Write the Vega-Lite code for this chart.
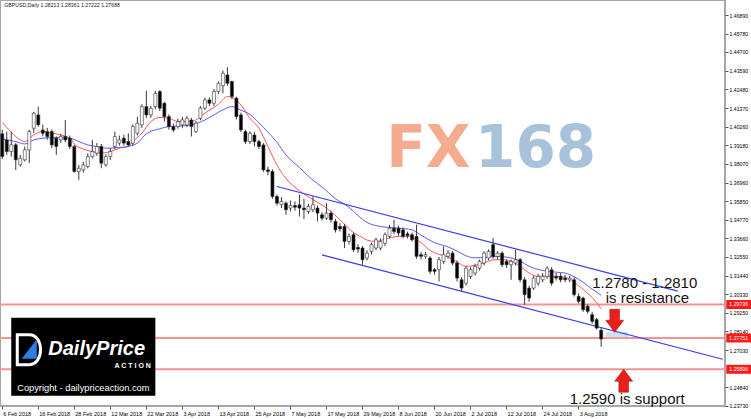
{
  "$schema": "https://vega.github.io/schema/vega-lite/v6.json",
  "width": 725,
  "height": 406,
  "autosize": "none",
  "padding": {"left": 0, "top": 0, "right": 26, "bottom": 13},
  "background": "#ffffff",
  "config": {
    "view": {"stroke": "#a6a6a6", "strokeWidth": 2},
    "axis": {"grid": false, "domain": false, "labelFont": "Liberation Sans", "labelColor": "#000000", "labelOverlap": false}
  },
  "datasets": {
    "candles": [
      {"d":"6 Feb 2018","o":1.3985,"h":1.401,"l":1.3835,"c":1.385},
      {"d":"7 Feb 2018","o":1.3949,"h":1.3998,"l":1.386,"c":1.388},
      {"d":"8 Feb 2018","o":1.388,"h":1.3998,"l":1.385,"c":1.392},
      {"d":"9 Feb 2018","o":1.392,"h":1.393,"l":1.3771,"c":1.3831},
      {"d":"12 Feb 2018","o":1.3801,"h":1.386,"l":1.3791,"c":1.384},
      {"d":"13 Feb 2018","o":1.3831,"h":1.391,"l":1.3821,"c":1.389},
      {"d":"14 Feb 2018","o":1.389,"h":1.4008,"l":1.3811,"c":1.3998},
      {"d":"15 Feb 2018","o":1.4018,"h":1.4115,"l":1.399,"c":1.4107},
      {"d":"16 Feb 2018","o":1.4097,"h":1.4146,"l":1.4028,"c":1.4038},
      {"d":"19 Feb 2018","o":1.4008,"h":1.404,"l":1.397,"c":1.3988},
      {"d":"20 Feb 2018","o":1.3998,"h":1.402,"l":1.395,"c":1.3969},
      {"d":"21 Feb 2018","o":1.3998,"h":1.401,"l":1.39,"c":1.3919},
      {"d":"22 Feb 2018","o":1.3959,"h":1.397,"l":1.386,"c":1.391},
      {"d":"23 Feb 2018","o":1.3949,"h":1.3985,"l":1.393,"c":1.3969},
      {"d":"26 Feb 2018","o":1.3969,"h":1.4067,"l":1.3935,"c":1.3949},
      {"d":"27 Feb 2018","o":1.3959,"h":1.3975,"l":1.3895,"c":1.391},
      {"d":"28 Feb 2018","o":1.391,"h":1.392,"l":1.3755,"c":1.3762},
      {"d":"1 Mar 2018","o":1.3762,"h":1.3801,"l":1.3712,"c":1.3781},
      {"d":"2 Mar 2018","o":1.3771,"h":1.382,"l":1.3755,"c":1.3801},
      {"d":"5 Mar 2018","o":1.3791,"h":1.387,"l":1.378,"c":1.385},
      {"d":"6 Mar 2018","o":1.385,"h":1.3949,"l":1.384,"c":1.388},
      {"d":"7 Mar 2018","o":1.387,"h":1.393,"l":1.3855,"c":1.391},
      {"d":"8 Mar 2018","o":1.391,"h":1.3925,"l":1.3781,"c":1.3811},
      {"d":"9 Mar 2018","o":1.3801,"h":1.3865,"l":1.379,"c":1.385},
      {"d":"12 Mar 2018","o":1.385,"h":1.39,"l":1.383,"c":1.388},
      {"d":"13 Mar 2018","o":1.391,"h":1.3998,"l":1.3895,"c":1.3969},
      {"d":"14 Mar 2018","o":1.393,"h":1.3975,"l":1.3915,"c":1.3949},
      {"d":"15 Mar 2018","o":1.3959,"h":1.398,"l":1.3915,"c":1.393},
      {"d":"16 Mar 2018","o":1.3939,"h":1.3988,"l":1.391,"c":1.3919},
      {"d":"19 Mar 2018","o":1.393,"h":1.404,"l":1.3915,"c":1.4028},
      {"d":"20 Mar 2018","o":1.3988,"h":1.4087,"l":1.3975,"c":1.4048},
      {"d":"21 Mar 2018","o":1.4038,"h":1.416,"l":1.402,"c":1.4146},
      {"d":"22 Mar 2018","o":1.4146,"h":1.424,"l":1.408,"c":1.4097},
      {"d":"23 Mar 2018","o":1.4097,"h":1.415,"l":1.408,"c":1.4136},
      {"d":"26 Mar 2018","o":1.4146,"h":1.424,"l":1.413,"c":1.4225},
      {"d":"27 Mar 2018","o":1.4235,"h":1.4245,"l":1.412,"c":1.4137},
      {"d":"28 Mar 2018","o":1.4166,"h":1.4175,"l":1.4057,"c":1.4087},
      {"d":"29 Mar 2018","o":1.4087,"h":1.41,"l":1.401,"c":1.4028},
      {"d":"30 Mar 2018","o":1.4028,"h":1.4045,"l":1.3995,"c":1.4008},
      {"d":"2 Apr 2018","o":1.4028,"h":1.4075,"l":1.4015,"c":1.4057},
      {"d":"3 Apr 2018","o":1.4038,"h":1.4085,"l":1.402,"c":1.4067},
      {"d":"4 Apr 2018","o":1.4038,"h":1.409,"l":1.4025,"c":1.4077},
      {"d":"5 Apr 2018","o":1.4067,"h":1.408,"l":1.3969,"c":1.4028},
      {"d":"6 Apr 2018","o":1.3998,"h":1.406,"l":1.399,"c":1.4048},
      {"d":"9 Apr 2018","o":1.4077,"h":1.415,"l":1.4065,"c":1.4137},
      {"d":"10 Apr 2018","o":1.4137,"h":1.42,"l":1.4125,"c":1.4186},
      {"d":"11 Apr 2018","o":1.4186,"h":1.42,"l":1.415,"c":1.4166},
      {"d":"12 Apr 2018","o":1.4166,"h":1.425,"l":1.415,"c":1.4235},
      {"d":"13 Apr 2018","o":1.4235,"h":1.4295,"l":1.422,"c":1.4285},
      {"d":"16 Apr 2018","o":1.427,"h":1.436,"l":1.4225,"c":1.4344},
      {"d":"17 Apr 2018","o":1.4334,"h":1.438,"l":1.427,"c":1.4285},
      {"d":"18 Apr 2018","o":1.4295,"h":1.43,"l":1.419,"c":1.4206},
      {"d":"19 Apr 2018","o":1.4196,"h":1.4205,"l":1.407,"c":1.4087},
      {"d":"20 Apr 2018","o":1.4097,"h":1.411,"l":1.3995,"c":1.4008},
      {"d":"23 Apr 2018","o":1.3998,"h":1.401,"l":1.3925,"c":1.3939},
      {"d":"24 Apr 2018","o":1.3939,"h":1.4,"l":1.3925,"c":1.3988},
      {"d":"25 Apr 2018","o":1.3978,"h":1.3995,"l":1.391,"c":1.3939},
      {"d":"26 Apr 2018","o":1.3939,"h":1.395,"l":1.3895,"c":1.391},
      {"d":"27 Apr 2018","o":1.3919,"h":1.393,"l":1.376,"c":1.3771},
      {"d":"30 Apr 2018","o":1.3771,"h":1.379,"l":1.374,"c":1.3762},
      {"d":"1 May 2018","o":1.3762,"h":1.3775,"l":1.36,"c":1.3614},
      {"d":"2 May 2018","o":1.3614,"h":1.3625,"l":1.356,"c":1.3574},
      {"d":"3 May 2018","o":1.3565,"h":1.361,"l":1.3545,"c":1.3585},
      {"d":"4 May 2018","o":1.3574,"h":1.3585,"l":1.3505,"c":1.3535},
      {"d":"7 May 2018","o":1.3545,"h":1.359,"l":1.3525,"c":1.356},
      {"d":"8 May 2018","o":1.356,"h":1.3585,"l":1.353,"c":1.355},
      {"d":"9 May 2018","o":1.3564,"h":1.3624,"l":1.3495,"c":1.3545},
      {"d":"10 May 2018","o":1.3545,"h":1.36,"l":1.348,"c":1.3535},
      {"d":"11 May 2018","o":1.3525,"h":1.357,"l":1.351,"c":1.3555},
      {"d":"14 May 2018","o":1.3535,"h":1.3614,"l":1.352,"c":1.3565},
      {"d":"15 May 2018","o":1.3545,"h":1.356,"l":1.3466,"c":1.3515},
      {"d":"16 May 2018","o":1.3505,"h":1.352,"l":1.347,"c":1.3485},
      {"d":"17 May 2018","o":1.3485,"h":1.3575,"l":1.3475,"c":1.3515},
      {"d":"18 May 2018","o":1.3515,"h":1.353,"l":1.346,"c":1.3476},
      {"d":"21 May 2018","o":1.3466,"h":1.348,"l":1.34,"c":1.3416},
      {"d":"22 May 2018","o":1.3436,"h":1.3455,"l":1.3405,"c":1.3422},
      {"d":"23 May 2018","o":1.3436,"h":1.345,"l":1.3308,"c":1.3347},
      {"d":"24 May 2018","o":1.3347,"h":1.3395,"l":1.333,"c":1.3377},
      {"d":"25 May 2018","o":1.3387,"h":1.34,"l":1.3285,"c":1.3298},
      {"d":"28 May 2018","o":1.3312,"h":1.333,"l":1.328,"c":1.3302},
      {"d":"29 May 2018","o":1.3308,"h":1.332,"l":1.3209,"c":1.3239},
      {"d":"30 May 2018","o":1.3249,"h":1.3295,"l":1.3235,"c":1.3278},
      {"d":"31 May 2018","o":1.3288,"h":1.334,"l":1.327,"c":1.3328},
      {"d":"1 Jun 2018","o":1.3308,"h":1.337,"l":1.3295,"c":1.3357},
      {"d":"4 Jun 2018","o":1.3308,"h":1.3365,"l":1.3295,"c":1.3347},
      {"d":"5 Jun 2018","o":1.3337,"h":1.34,"l":1.332,"c":1.3387},
      {"d":"6 Jun 2018","o":1.3377,"h":1.3446,"l":1.3365,"c":1.3426},
      {"d":"7 Jun 2018","o":1.3426,"h":1.3476,"l":1.339,"c":1.3406},
      {"d":"8 Jun 2018","o":1.3426,"h":1.344,"l":1.338,"c":1.3397},
      {"d":"11 Jun 2018","o":1.3416,"h":1.343,"l":1.3365,"c":1.3377},
      {"d":"12 Jun 2018","o":1.3392,"h":1.3405,"l":1.3365,"c":1.3382},
      {"d":"13 Jun 2018","o":1.3387,"h":1.34,"l":1.3345,"c":1.3357},
      {"d":"14 Jun 2018","o":1.3377,"h":1.3446,"l":1.3245,"c":1.3259},
      {"d":"15 Jun 2018","o":1.3269,"h":1.3285,"l":1.324,"c":1.3259},
      {"d":"18 Jun 2018","o":1.3259,"h":1.3285,"l":1.3245,"c":1.3269},
      {"d":"19 Jun 2018","o":1.3249,"h":1.326,"l":1.3155,"c":1.317},
      {"d":"20 Jun 2018","o":1.318,"h":1.319,"l":1.315,"c":1.317},
      {"d":"21 Jun 2018","o":1.318,"h":1.3255,"l":1.311,"c":1.3239},
      {"d":"22 Jun 2018","o":1.3229,"h":1.3318,"l":1.3215,"c":1.3269},
      {"d":"25 Jun 2018","o":1.3259,"h":1.3295,"l":1.3245,"c":1.3278},
      {"d":"26 Jun 2018","o":1.3278,"h":1.329,"l":1.3205,"c":1.3219},
      {"d":"27 Jun 2018","o":1.322,"h":1.3235,"l":1.311,"c":1.313},
      {"d":"28 Jun 2018","o":1.312,"h":1.3135,"l":1.3051,"c":1.3071},
      {"d":"29 Jun 2018","o":1.31,"h":1.32,"l":1.3085,"c":1.3189},
      {"d":"2 Jul 2018","o":1.314,"h":1.3195,"l":1.3125,"c":1.318},
      {"d":"3 Jul 2018","o":1.316,"h":1.3215,"l":1.3145,"c":1.3199},
      {"d":"4 Jul 2018","o":1.3189,"h":1.324,"l":1.3175,"c":1.3229},
      {"d":"5 Jul 2018","o":1.3219,"h":1.329,"l":1.3205,"c":1.3278},
      {"d":"6 Jul 2018","o":1.3249,"h":1.33,"l":1.3235,"c":1.3288},
      {"d":"9 Jul 2018","o":1.3328,"h":1.3367,"l":1.3245,"c":1.3258},
      {"d":"10 Jul 2018","o":1.3258,"h":1.329,"l":1.324,"c":1.3278},
      {"d":"11 Jul 2018","o":1.3278,"h":1.329,"l":1.3195,"c":1.3209},
      {"d":"12 Jul 2018","o":1.3229,"h":1.324,"l":1.319,"c":1.3209},
      {"d":"13 Jul 2018","o":1.3209,"h":1.324,"l":1.312,"c":1.3229},
      {"d":"16 Jul 2018","o":1.3219,"h":1.3298,"l":1.3205,"c":1.3239},
      {"d":"17 Jul 2018","o":1.3239,"h":1.325,"l":1.3105,"c":1.312},
      {"d":"18 Jul 2018","o":1.312,"h":1.3135,"l":1.2972,"c":1.3032},
      {"d":"19 Jul 2018","o":1.3071,"h":1.3085,"l":1.299,"c":1.3012},
      {"d":"20 Jul 2018","o":1.3071,"h":1.3145,"l":1.306,"c":1.313},
      {"d":"23 Jul 2018","o":1.31,"h":1.3155,"l":1.3085,"c":1.314},
      {"d":"24 Jul 2018","o":1.312,"h":1.316,"l":1.3105,"c":1.314},
      {"d":"25 Jul 2018","o":1.314,"h":1.32,"l":1.3125,"c":1.3189},
      {"d":"26 Jul 2018","o":1.3179,"h":1.3195,"l":1.3085,"c":1.31},
      {"d":"27 Jul 2018","o":1.314,"h":1.316,"l":1.3115,"c":1.313},
      {"d":"30 Jul 2018","o":1.314,"h":1.316,"l":1.3105,"c":1.312},
      {"d":"31 Jul 2018","o":1.313,"h":1.315,"l":1.3105,"c":1.312},
      {"d":"1 Aug 2018","o":1.312,"h":1.3145,"l":1.3105,"c":1.313},
      {"d":"2 Aug 2018","o":1.312,"h":1.3135,"l":1.302,"c":1.3032},
      {"d":"3 Aug 2018","o":1.3022,"h":1.304,"l":1.298,"c":1.2992},
      {"d":"6 Aug 2018","o":1.3012,"h":1.302,"l":1.293,"c":1.2943},
      {"d":"7 Aug 2018","o":1.2963,"h":1.2975,"l":1.292,"c":1.2933},
      {"d":"8 Aug 2018","o":1.2913,"h":1.293,"l":1.286,"c":1.2874},
      {"d":"9 Aug 2018","o":1.2884,"h":1.2895,"l":1.2825,"c":1.2834},
      {"d":"10 Aug 2018","o":1.28213,"h":1.28361,"l":1.27222,"c":1.27688}
    ],
    "ma": [
      {"s":"fast","d":"6 Feb 2018","v":1.4052},
      {"s":"fast","d":"8 Feb 2018","v":1.3995},
      {"s":"fast","d":"12 Feb 2018","v":1.3949},
      {"s":"fast","d":"13 Feb 2018","v":1.3939},
      {"s":"fast","d":"15 Feb 2018","v":1.3978},
      {"s":"fast","d":"19 Feb 2018","v":1.4},
      {"s":"fast","d":"21 Feb 2018","v":1.399},
      {"s":"fast","d":"23 Feb 2018","v":1.3978},
      {"s":"fast","d":"27 Feb 2018","v":1.3959},
      {"s":"fast","d":"28 Feb 2018","v":1.3925},
      {"s":"fast","d":"2 Mar 2018","v":1.3894},
      {"s":"fast","d":"6 Mar 2018","v":1.388},
      {"s":"fast","d":"8 Mar 2018","v":1.387},
      {"s":"fast","d":"12 Mar 2018","v":1.388},
      {"s":"fast","d":"14 Mar 2018","v":1.39},
      {"s":"fast","d":"16 Mar 2018","v":1.391},
      {"s":"fast","d":"19 Mar 2018","v":1.3939},
      {"s":"fast","d":"21 Mar 2018","v":1.3988},
      {"s":"fast","d":"23 Mar 2018","v":1.4057},
      {"s":"fast","d":"27 Mar 2018","v":1.4082},
      {"s":"fast","d":"29 Mar 2018","v":1.4077},
      {"s":"fast","d":"2 Apr 2018","v":1.4058},
      {"s":"fast","d":"5 Apr 2018","v":1.4058},
      {"s":"fast","d":"6 Apr 2018","v":1.4067},
      {"s":"fast","d":"10 Apr 2018","v":1.4107},
      {"s":"fast","d":"13 Apr 2018","v":1.416},
      {"s":"fast","d":"17 Apr 2018","v":1.4206},
      {"s":"fast","d":"19 Apr 2018","v":1.4185},
      {"s":"fast","d":"20 Apr 2018","v":1.4156},
      {"s":"fast","d":"24 Apr 2018","v":1.4077},
      {"s":"fast","d":"26 Apr 2018","v":1.4018},
      {"s":"fast","d":"30 Apr 2018","v":1.391},
      {"s":"fast","d":"2 May 2018","v":1.38},
      {"s":"fast","d":"4 May 2018","v":1.372},
      {"s":"fast","d":"9 May 2018","v":1.3648},
      {"s":"fast","d":"14 May 2018","v":1.3595},
      {"s":"fast","d":"17 May 2018","v":1.3545},
      {"s":"fast","d":"22 May 2018","v":1.3476},
      {"s":"fast","d":"25 May 2018","v":1.34},
      {"s":"fast","d":"29 May 2018","v":1.337},
      {"s":"fast","d":"30 May 2018","v":1.3355},
      {"s":"fast","d":"1 Jun 2018","v":1.3347},
      {"s":"fast","d":"5 Jun 2018","v":1.3361},
      {"s":"fast","d":"8 Jun 2018","v":1.3377},
      {"s":"fast","d":"12 Jun 2018","v":1.3377},
      {"s":"fast","d":"14 Jun 2018","v":1.336},
      {"s":"fast","d":"15 Jun 2018","v":1.334},
      {"s":"fast","d":"19 Jun 2018","v":1.3295},
      {"s":"fast","d":"21 Jun 2018","v":1.327},
      {"s":"fast","d":"25 Jun 2018","v":1.3255},
      {"s":"fast","d":"27 Jun 2018","v":1.3225},
      {"s":"fast","d":"29 Jun 2018","v":1.32},
      {"s":"fast","d":"3 Jul 2018","v":1.3205},
      {"s":"fast","d":"5 Jul 2018","v":1.322},
      {"s":"fast","d":"9 Jul 2018","v":1.3238},
      {"s":"fast","d":"11 Jul 2018","v":1.324},
      {"s":"fast","d":"13 Jul 2018","v":1.323},
      {"s":"fast","d":"17 Jul 2018","v":1.32},
      {"s":"fast","d":"19 Jul 2018","v":1.316},
      {"s":"fast","d":"23 Jul 2018","v":1.314},
      {"s":"fast","d":"25 Jul 2018","v":1.3142},
      {"s":"fast","d":"27 Jul 2018","v":1.314},
      {"s":"fast","d":"31 Jul 2018","v":1.3135},
      {"s":"fast","d":"1 Aug 2018","v":1.3124},
      {"s":"fast","d":"3 Aug 2018","v":1.3085},
      {"s":"fast","d":"7 Aug 2018","v":1.304},
      {"s":"fast","d":"8 Aug 2018","v":1.3015},
      {"s":"fast","d":"10 Aug 2018","v":1.2948},
      {"s":"slow","d":"6 Feb 2018","v":1.3953},
      {"s":"slow","d":"9 Feb 2018","v":1.3939},
      {"s":"slow","d":"13 Feb 2018","v":1.3925},
      {"s":"slow","d":"15 Feb 2018","v":1.3949},
      {"s":"slow","d":"19 Feb 2018","v":1.3959},
      {"s":"slow","d":"22 Feb 2018","v":1.3963},
      {"s":"slow","d":"27 Feb 2018","v":1.3959},
      {"s":"slow","d":"1 Mar 2018","v":1.3939},
      {"s":"slow","d":"5 Mar 2018","v":1.3919},
      {"s":"slow","d":"7 Mar 2018","v":1.391},
      {"s":"slow","d":"9 Mar 2018","v":1.39},
      {"s":"slow","d":"14 Mar 2018","v":1.3904},
      {"s":"slow","d":"16 Mar 2018","v":1.391},
      {"s":"slow","d":"20 Mar 2018","v":1.393},
      {"s":"slow","d":"22 Mar 2018","v":1.3985},
      {"s":"slow","d":"27 Mar 2018","v":1.4015},
      {"s":"slow","d":"29 Mar 2018","v":1.4028},
      {"s":"slow","d":"3 Apr 2018","v":1.4032},
      {"s":"slow","d":"5 Apr 2018","v":1.4038},
      {"s":"slow","d":"10 Apr 2018","v":1.4067},
      {"s":"slow","d":"12 Apr 2018","v":1.4097},
      {"s":"slow","d":"16 Apr 2018","v":1.4127},
      {"s":"slow","d":"18 Apr 2018","v":1.4146},
      {"s":"slow","d":"20 Apr 2018","v":1.4125},
      {"s":"slow","d":"24 Apr 2018","v":1.41},
      {"s":"slow","d":"26 Apr 2018","v":1.405},
      {"s":"slow","d":"30 Apr 2018","v":1.3995},
      {"s":"slow","d":"2 May 2018","v":1.3935},
      {"s":"slow","d":"4 May 2018","v":1.386},
      {"s":"slow","d":"9 May 2018","v":1.3785},
      {"s":"slow","d":"14 May 2018","v":1.371},
      {"s":"slow","d":"16 May 2018","v":1.367},
      {"s":"slow","d":"21 May 2018","v":1.36},
      {"s":"slow","d":"24 May 2018","v":1.355},
      {"s":"slow","d":"28 May 2018","v":1.35},
      {"s":"slow","d":"30 May 2018","v":1.346},
      {"s":"slow","d":"4 Jun 2018","v":1.3436},
      {"s":"slow","d":"8 Jun 2018","v":1.3426},
      {"s":"slow","d":"13 Jun 2018","v":1.3416},
      {"s":"slow","d":"15 Jun 2018","v":1.3385},
      {"s":"slow","d":"20 Jun 2018","v":1.334},
      {"s":"slow","d":"25 Jun 2018","v":1.3315},
      {"s":"slow","d":"27 Jun 2018","v":1.329},
      {"s":"slow","d":"29 Jun 2018","v":1.3262},
      {"s":"slow","d":"3 Jul 2018","v":1.325},
      {"s":"slow","d":"5 Jul 2018","v":1.3252},
      {"s":"slow","d":"10 Jul 2018","v":1.3258},
      {"s":"slow","d":"13 Jul 2018","v":1.325},
      {"s":"slow","d":"17 Jul 2018","v":1.323},
      {"s":"slow","d":"19 Jul 2018","v":1.32},
      {"s":"slow","d":"24 Jul 2018","v":1.3175},
      {"s":"slow","d":"27 Jul 2018","v":1.3165},
      {"s":"slow","d":"31 Jul 2018","v":1.316},
      {"s":"slow","d":"2 Aug 2018","v":1.3138},
      {"s":"slow","d":"6 Aug 2018","v":1.3105},
      {"s":"slow","d":"8 Aug 2018","v":1.3065},
      {"s":"slow","d":"10 Aug 2018","v":1.3028}
    ],
    "channel": [
      {"line":"upper","d":"2 May 2018","p":1.3673},
      {"line":"upper","d":"4 Sep 2018","p":1.3053},
      {"line":"lower","d":"16 May 2018","p":1.3268},
      {"line":"lower","d":"18 Sep 2018","p":1.2649}
    ],
    "levels": [
      {"p":1.29736},
      {"p":1.27751},
      {"p":1.25896}
    ]
  },
  "layer": [
    {
      "data": {"name": "levels"},
      "mark": {"type": "rule", "stroke": "#f29494", "strokeWidth": 2},
      "encoding": {"y": {"field": "p", "type": "quantitative", "title": null}}
    },
    {
      "data": {"values": [{"d1":"13 Aug 2018","d2":"20 Aug 2018","lo":1.278,"hi":1.281}]},
      "mark": {"type": "rect", "fill": "#c6dcf2", "opacity": 0.9},
      "encoding": {
        "x": {"field": "d1", "type": "ordinal", "scale": {"type": "band"}, "title": null},
        "x2": {"field": "d2"},
        "y": {"field": "lo", "type": "quantitative", "title": null},
        "y2": {"field": "hi"}
      }
    },
    {
      "data": {"values": [{"t":"FX","d":"2 Jul 2018","p":1.389}]},
      "mark": {"type": "text", "font": "DejaVu Sans", "fontWeight": "bold", "fontSize": 58, "align": "right", "baseline": "middle", "fill": "#f5ab8e"},
      "encoding": {
        "x": {"field": "d", "type": "ordinal", "scale": {"type": "band"}, "title": null},
        "y": {"field": "p", "type": "quantitative", "title": null},
        "text": {"field": "t"}
      }
    },
    {
      "data": {"values": [{"t":"168","d":"3 Jul 2018","p":1.389}]},
      "mark": {"type": "text", "font": "DejaVu Sans", "fontWeight": "bold", "fontSize": 58, "align": "left", "baseline": "middle", "fill": "#a9c2dc"},
      "encoding": {
        "x": {"field": "d", "type": "ordinal", "scale": {"type": "band"}, "title": null},
        "y": {"field": "p", "type": "quantitative", "title": null},
        "text": {"field": "t"}
      }
    },
    {
      "data": {"values": [{"d1":"8 Feb 2018","d2":"26 Mar 2018","lo":1.2433,"hi":1.2895}]},
      "mark": {"type": "rect", "fill": "#000000"},
      "encoding": {
        "x": {"field": "d1", "type": "ordinal", "scale": {"type": "band"}, "title": null},
        "x2": {"field": "d2"},
        "y": {"field": "lo", "type": "quantitative", "title": null},
        "y2": {"field": "hi"}
      }
    },
    {
      "data": {"values": [{"d":"14 Feb 2018","p":1.2706}]},
      "mark": {"type": "point", "shape": "M-0.8,-1L0,-1C1,-1 1,1 0,1L-0.8,1Z", "filled": false, "stroke": "#ffffff", "strokeWidth": 3, "size": 900, "opacity": 1},
      "encoding": {
        "x": {"field": "d", "type": "ordinal", "scale": {"type": "band"}, "title": null},
        "y": {"field": "p", "type": "quantitative", "title": null}
      }
    },
    {
      "data": {"values": [{"d":"14 Feb 2018","p":1.2706}]},
      "mark": {"type": "point", "shape": "M-0.5,0.6L0.5,-0.7L0.5,0.6Z", "filled": true, "fill": "#2f7de1", "size": 900, "opacity": 1},
      "encoding": {
        "x": {"field": "d", "type": "ordinal", "scale": {"type": "band"}, "title": null},
        "y": {"field": "p", "type": "quantitative", "title": null}
      }
    },
    {
      "data": {"values": [{"d":"20 Feb 2018","p":1.2712,"t":"DailyPrice"}]},
      "mark": {"type": "text", "font": "Liberation Sans", "fontWeight": "bold", "fontStyle": "italic", "fontSize": 20, "align": "left", "baseline": "middle", "fill": "#ffffff", "dx": 1},
      "encoding": {
        "x": {"field": "d", "type": "ordinal", "scale": {"type": "band"}, "title": null},
        "y": {"field": "p", "type": "quantitative", "title": null},
        "text": {"field": "t"}
      }
    },
    {
      "data": {"values": [{"d":"23 Mar 2018","p":1.2611,"t":"A C T I O N"}]},
      "mark": {"type": "text", "font": "Liberation Sans", "fontWeight": "bold", "fontSize": 7, "align": "right", "baseline": "middle", "fill": "#ffffff"},
      "encoding": {
        "x": {"field": "d", "type": "ordinal", "scale": {"type": "band"}, "title": null},
        "y": {"field": "p", "type": "quantitative", "title": null},
        "text": {"field": "t"}
      }
    },
    {
      "data": {"values": [{"d":"2 Mar 2018","p":1.2481,"t":"Copyright - dailypriceaction.com"}]},
      "mark": {"type": "text", "font": "Liberation Sans", "fontSize": 9.3, "align": "center", "baseline": "middle", "fill": "#ffffff"},
      "encoding": {
        "x": {"field": "d", "type": "ordinal", "scale": {"type": "band"}, "title": null},
        "y": {"field": "p", "type": "quantitative", "title": null},
        "text": {"field": "t"}
      }
    },
    {
      "data": {"name": "ma"},
      "mark": {"type": "line", "strokeWidth": 1, "interpolate": "monotone"},
      "encoding": {
        "x": {"field": "d", "type": "ordinal", "scale": {"type": "band"}, "sort": null, "title": null},
        "y": {"field": "v", "type": "quantitative", "title": null},
        "stroke": {"field": "s", "type": "nominal", "scale": {"domain": ["fast","slow"], "range": ["#ff5555","#5a5aff"]}, "legend": null}
      }
    },
    {
      "data": {"name": "channel"},
      "mark": {"type": "line", "strokeWidth": 1.2, "stroke": "#3c3cf0"},
      "encoding": {
        "x": {"field": "d", "type": "ordinal", "scale": {"type": "band"}, "sort": null, "title": null},
        "y": {"field": "p", "type": "quantitative", "title": null},
        "detail": {"field": "line"}
      }
    },
    {
      "data": {"name": "candles"},
      "mark": {"type": "rule", "stroke": "#3a3a3a", "strokeWidth": 1},
      "encoding": {
        "x": {
          "field": "d", "type": "ordinal", "title": null,
          "scale": {"type": "band", "paddingInner": 0, "paddingOuter": 0, "domain": [
            "6 Feb 2018","7 Feb 2018","8 Feb 2018","9 Feb 2018","12 Feb 2018","13 Feb 2018","14 Feb 2018","15 Feb 2018","16 Feb 2018","19 Feb 2018","20 Feb 2018","21 Feb 2018","22 Feb 2018","23 Feb 2018","26 Feb 2018","27 Feb 2018","28 Feb 2018",
            "1 Mar 2018","2 Mar 2018","5 Mar 2018","6 Mar 2018","7 Mar 2018","8 Mar 2018","9 Mar 2018","12 Mar 2018","13 Mar 2018","14 Mar 2018","15 Mar 2018","16 Mar 2018","19 Mar 2018","20 Mar 2018","21 Mar 2018","22 Mar 2018","23 Mar 2018","26 Mar 2018","27 Mar 2018","28 Mar 2018","29 Mar 2018","30 Mar 2018",
            "2 Apr 2018","3 Apr 2018","4 Apr 2018","5 Apr 2018","6 Apr 2018","9 Apr 2018","10 Apr 2018","11 Apr 2018","12 Apr 2018","13 Apr 2018","16 Apr 2018","17 Apr 2018","18 Apr 2018","19 Apr 2018","20 Apr 2018","23 Apr 2018","24 Apr 2018","25 Apr 2018","26 Apr 2018","27 Apr 2018","30 Apr 2018",
            "1 May 2018","2 May 2018","3 May 2018","4 May 2018","7 May 2018","8 May 2018","9 May 2018","10 May 2018","11 May 2018","14 May 2018","15 May 2018","16 May 2018","17 May 2018","18 May 2018","21 May 2018","22 May 2018","23 May 2018","24 May 2018","25 May 2018","28 May 2018","29 May 2018","30 May 2018","31 May 2018",
            "1 Jun 2018","4 Jun 2018","5 Jun 2018","6 Jun 2018","7 Jun 2018","8 Jun 2018","11 Jun 2018","12 Jun 2018","13 Jun 2018","14 Jun 2018","15 Jun 2018","18 Jun 2018","19 Jun 2018","20 Jun 2018","21 Jun 2018","22 Jun 2018","25 Jun 2018","26 Jun 2018","27 Jun 2018","28 Jun 2018","29 Jun 2018",
            "2 Jul 2018","3 Jul 2018","4 Jul 2018","5 Jul 2018","6 Jul 2018","9 Jul 2018","10 Jul 2018","11 Jul 2018","12 Jul 2018","13 Jul 2018","16 Jul 2018","17 Jul 2018","18 Jul 2018","19 Jul 2018","20 Jul 2018","23 Jul 2018","24 Jul 2018","25 Jul 2018","26 Jul 2018","27 Jul 2018","30 Jul 2018","31 Jul 2018",
            "1 Aug 2018","2 Aug 2018","3 Aug 2018","6 Aug 2018","7 Aug 2018","8 Aug 2018","9 Aug 2018","10 Aug 2018","13 Aug 2018","14 Aug 2018","15 Aug 2018","16 Aug 2018","17 Aug 2018","20 Aug 2018","21 Aug 2018","22 Aug 2018","23 Aug 2018","24 Aug 2018","27 Aug 2018","28 Aug 2018","29 Aug 2018","30 Aug 2018","31 Aug 2018",
            "3 Sep 2018","4 Sep 2018","5 Sep 2018","6 Sep 2018","7 Sep 2018","10 Sep 2018","11 Sep 2018","12 Sep 2018","13 Sep 2018","14 Sep 2018","17 Sep 2018","18 Sep 2018"
          ]},
          "axis": {
            "values": ["6 Feb 2018","16 Feb 2018","28 Feb 2018","12 Mar 2018","22 Mar 2018","3 Apr 2018","13 Apr 2018","25 Apr 2018","7 May 2018","17 May 2018","29 May 2018","8 Jun 2018","20 Jun 2018","2 Jul 2018","12 Jul 2018","24 Jul 2018","3 Aug 2018"],
            "labelAlign": "left", "labelBaseline": "top", "labelPadding": 2, "labelOffset": 1, "labelAngle": 0,
            "tickSize": 3, "tickColor": "#555555", "labelFontSize": 5.5,
            "labelOverlap": false, "labelBound": false, "labelFlush": false, "bandPosition": 0.5
          }
        },
        "y": {
          "field": "l", "type": "quantitative", "title": null,
          "scale": {"domain": [1.2372, 1.4778], "zero": false, "nice": false},
          "axis": {
            "orient": "right",
            "values": [1.4689,1.4578,1.447,1.4359,1.4248,1.4137,1.4026,1.3918,1.3807,1.3696,1.3585,1.3477,1.3366,1.3255,1.3144,1.3033,1.2925,1.2814,1.2703,1.2484,1.2373],
            "tickCount": 60,
            "format": ".5f", "tickSize": 3, "tickColor": "#555555", "labelPadding": 1, "labelFontSize": 5.2,
            "labelOverlap": false, "labelBound": false, "labelFlush": false, "labelBaseline": "middle"
          }
        },
        "y2": {"field": "h"}
      }
    },
    {
      "data": {"name": "candles"},
      "mark": {"type": "bar", "width": 3, "stroke": "#303030", "strokeWidth": 0.6},
      "encoding": {
        "x": {"field": "d", "type": "ordinal", "scale": {"type": "band"}, "title": null},
        "y": {"field": "o", "type": "quantitative", "title": null},
        "y2": {"field": "c"},
        "fill": {"condition": {"test": "datum.c >= datum.o", "value": "#ffffff"}, "value": "#000000"}
      }
    },
    {
      "data": {"values": [
        {"d":"8 Aug 2018","p":1.3073,"t":"1.2780 - 1.2810"},
        {"d":"13 Aug 2018","p":1.2981,"t":"is resistance"},
        {"d":"1 Aug 2018","p":1.2381,"t":"1.2590 is support"}
      ]},
      "mark": {"type": "text", "font": "Liberation Sans", "fontSize": 15, "align": "left", "baseline": "alphabetic", "fill": "#111111"},
      "encoding": {
        "x": {"field": "d", "type": "ordinal", "scale": {"type": "band"}, "title": null},
        "y": {"field": "p", "type": "quantitative", "title": null},
        "text": {"field": "t"}
      }
    },
    {
      "data": {"values": [
        {"d":"15 Aug 2018","p":1.2877,"dir":"down"},
        {"d":"17 Aug 2018","p":1.2522,"dir":"up"}
      ]},
      "mark": {"type": "point", "filled": true, "fill": "#e8201a", "stroke": "#a00000", "strokeWidth": 0.5, "size": 529, "opacity": 1},
      "encoding": {
        "x": {"field": "d", "type": "ordinal", "scale": {"type": "band"}, "title": null},
        "y": {"field": "p", "type": "quantitative", "title": null},
        "shape": {"field": "dir", "type": "nominal", "legend": null, "scale": {"domain": ["down","up"], "range": [
          "M-0.42,-1L0.42,-1L0.42,-0.05L0.78,-0.05L0,1L-0.78,-0.05L-0.42,-0.05Z",
          "M-0.42,1L0.42,1L0.42,0.05L0.78,0.05L0,-1L-0.78,0.05L-0.42,0.05Z"
        ]}}
      }
    },
    {
      "data": {"name": "levels"},
      "mark": {"type": "point", "shape": "M-1,-0.36L1,-0.36L1,0.36L-1,0.36Z", "filled": true, "fill": "#ff1a1a", "strokeWidth": 0, "size": 625, "opacity": 1, "xOffset": 16},
      "encoding": {
        "x": {"datum": "18 Sep 2018", "type": "ordinal", "scale": {"type": "band"}, "title": null},
        "y": {"field": "p", "type": "quantitative", "title": null}
      }
    },
    {
      "data": {"name": "levels"},
      "mark": {"type": "text", "font": "Liberation Sans", "fontSize": 5.2, "align": "center", "baseline": "middle", "fill": "#ffffff", "dx": 16},
      "encoding": {
        "x": {"datum": "18 Sep 2018", "type": "ordinal", "scale": {"type": "band"}, "title": null},
        "y": {"field": "p", "type": "quantitative", "title": null},
        "text": {"field": "p", "type": "quantitative", "format": ".5f"}
      }
    },
    {
      "data": {"values": [{"d":"6 Feb 2018","p":1.4748,"t":"GBPUSD,Daily  1.28213 1.28361 1.27222 1.27688"}]},
      "mark": {"type": "text", "font": "Liberation Sans", "fontSize": 5.2, "align": "left", "baseline": "middle", "fill": "#222222", "dx": 2},
      "encoding": {
        "x": {"field": "d", "type": "ordinal", "scale": {"type": "band"}, "title": null},
        "y": {"field": "p", "type": "quantitative", "title": null},
        "text": {"field": "t"}
      }
    }
  ]
}
